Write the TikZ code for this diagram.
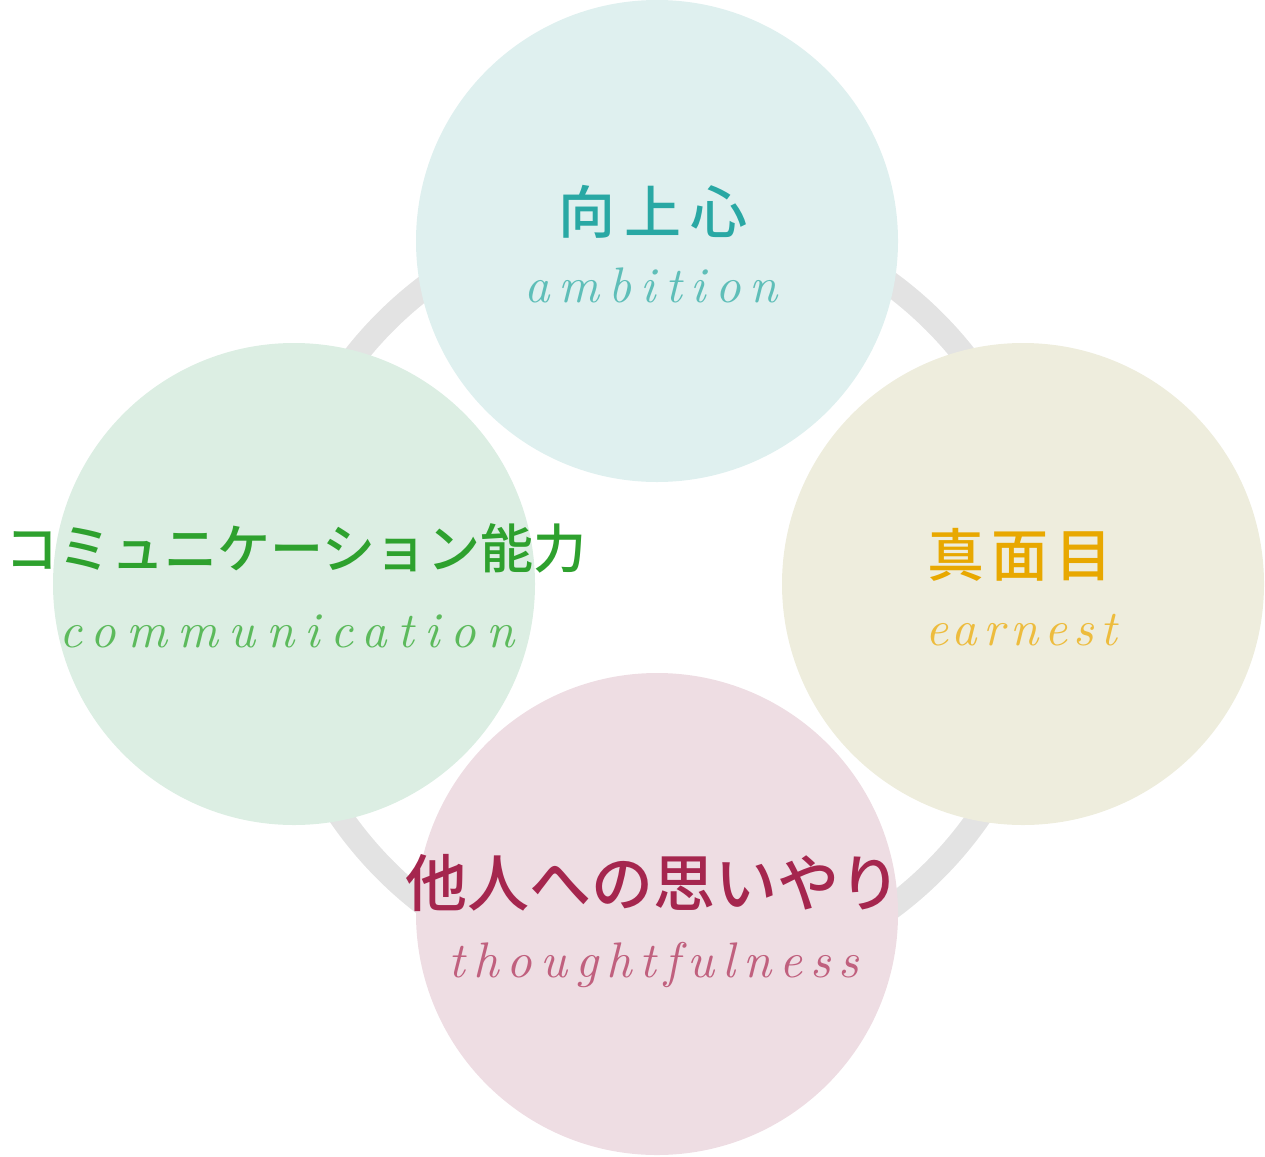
\documentclass[tikz,border=0pt]{standalone}
\usepackage{fontspec}
\newfontfamily\jpfont{Noto Sans CJK JP Medium}
\newfontfamily\enfont{lmroman10-italic.otf}
\definecolor{ringgray}{RGB}{227,227,227}
\definecolor{tealbg}{RGB}{223,240,239}
\definecolor{tealtx}{RGB}{41,168,164}
\definecolor{tealen}{RGB}{94,190,184}
\definecolor{greenbg}{RGB}{220,238,227}
\definecolor{greentx}{RGB}{46,161,46}
\definecolor{greenen}{RGB}{92,186,92}
\definecolor{goldbg}{RGB}{238,237,221}
\definecolor{goldtx}{RGB}{232,168,0}
\definecolor{golden}{RGB}{237,188,61}
\definecolor{rosebg}{RGB}{238,221,227}
\definecolor{rosetx}{RGB}{165,38,78}
\definecolor{roseen}{RGB}{192,96,126}
\tikzset{
  trait/.style={circle,inner sep=0pt,minimum size=482pt},
  jp/.style={inner sep=0pt,font=\jpfont\fontsize{#1}{#1}\selectfont},
  en/.style={inner sep=0pt,anchor=base,font=\enfont\fontsize{50}{50}\selectfont},
}

\begin{document}
\begin{tikzpicture}[x=1pt,y=-1pt]
    \useasboundingbox (0,0) rectangle (1265,1156);
    \draw[ringgray,line width=24pt] (660,596) circle (388pt);
    \foreach \nm/\cx/\cy/\bg in {amb/657/241/tealbg,com/294/584/greenbg,ear/1023/584/goldbg,tho/657/914/rosebg}
      \node[trait,fill=\bg] (\nm) at (\cx,\cy) {};
    % japanese labels
    \node[jp=57,tealtx] (ambJ) at (653,212) {\addfontfeature{LetterSpace=15}向上心};
    \node[jp=53,greentx] (comJ) at (296,548) {コミュニケーション能力};
    \node[jp=57,goldtx] (earJ) at (1020,555) {\addfontfeature{LetterSpace=12}真面目};
    \node[jp=62,rosetx] (thoJ) at (653,883) {他人への思いやり};
    % english labels
    \node[en,tealen] (ambE) at (651,302) {\addfontfeature{LetterSpace=18}ambition};
    \node[en,greenen] (comE) at (287,647) {\addfontfeature{LetterSpace=21}communication};
    \node[en,golden] (earE) at (1021,645) {\addfontfeature{LetterSpace=12}earnest};
    \node[en,roseen] (thoE) at (654,977) {\addfontfeature{LetterSpace=16}thoughtfulness};
\end{tikzpicture}
\end{document}
